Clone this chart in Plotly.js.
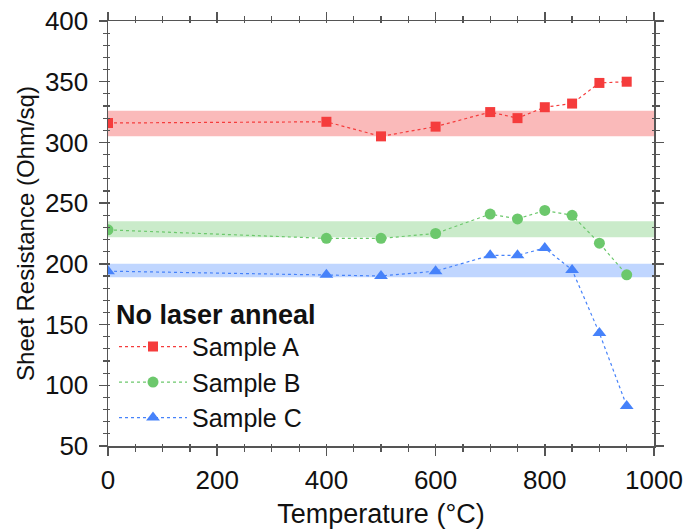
<!DOCTYPE html>
<html>
<head>
<meta charset="utf-8">
<script src="https://cdn.plot.ly/plotly-3.0.1.min.js"></script>
<style>html,body{margin:0;padding:0;background:#fff;}#chart{width:686px;height:530px;}</style>
</head>
<body>
<div id="chart"></div>
<script>
const temperature = [0, 400, 500, 600, 700, 750, 800, 850, 900, 950];
const sampleA = [316, 317, 305, 313, 325, 320, 329, 332, 349, 350];
const sampleB = [228, 221, 221, 225, 241, 237, 244, 240, 217, 191];
const sampleC = [194, 191, 190, 194, 207, 207, 213, 195, 143, 83];
const bandA = [305, 326];
const bandB = [222, 235];
const bandC = [189, 200];
const bandX = [0, 1000];
const seriesNames = ['Sample A', 'Sample B', 'Sample C'];
const legendTitle = 'No laser anneal';

const lineColors = ['rgb(245,60,60)', 'rgb(108,200,108)', 'rgb(70,130,250)'];
const bandColors = ['rgba(246,140,140,0.6)', 'rgba(150,215,150,0.5)', 'rgba(140,180,255,0.55)'];
const symbols = ['square', 'circle', 'triangle-up'];
const sizes = [10, 11, 12];

const traces = [];
[bandA, bandB, bandC].forEach((b, i) => {
  traces.push({x: bandX, y: [b[0], b[0]], mode: 'lines', line: {width: 0, color: bandColors[i]}, showlegend: false, hoverinfo: 'skip'});
  traces.push({x: bandX, y: [b[1], b[1]], mode: 'lines', line: {width: 0, color: bandColors[i]}, fill: 'tonexty', fillcolor: bandColors[i], showlegend: false, hoverinfo: 'skip'});
});
[sampleA, sampleB, sampleC].forEach((s, i) => {
  traces.push({
    x: temperature, y: s, name: seriesNames[i], mode: 'lines+markers',
    line: {color: lineColors[i], width: 1.2, dash: 'dot'},
    marker: {symbol: symbols[i], size: sizes[i], color: lineColors[i]}
  });
});
traces.push({x: [], y: [], xaxis: 'x2', yaxis: 'y2', showlegend: false, hoverinfo: 'skip'});

const axCol = '#555';
const font = {family: 'Liberation Sans, Arial, sans-serif', size: 26, color: '#111'};
const layout = {
  width: 686, height: 530,
  margin: {l: 108, r: 32, t: 21, b: 84},
  paper_bgcolor: '#fff', plot_bgcolor: '#fff',
  font: font,
  showlegend: true,
  legend: {
    x: 0.011, y: 0.37, xanchor: 'left', yanchor: 'top',
    bgcolor: 'rgba(0,0,0,0)', traceorder: 'normal',
    title: {text: '<b>' + legendTitle + '</b>', font: {size: 27}},
    font: {size: 25}, itemwidth: 68, tracegroupgap: 0
  },
  xaxis: {
    range: [0, 1000], dtick: 200, tick0: 0, showgrid: false, zeroline: false,
    showline: true, linecolor: axCol, linewidth: 1.5, mirror: 'allticks',
    ticks: 'outside', ticklen: 8, tickwidth: 1.5, tickcolor: axCol, ticklabelstandoff: 2,
    tickfont: {size: 26},
    minor: {dtick: 50, ticks: 'outside', ticklen: 4, tickwidth: 1.2, tickcolor: axCol},
    title: {text: 'Temperature (°C)', font: {size: 27}, standoff: 10}
  },
  yaxis: {
    range: [50, 400], dtick: 50, tick0: 0, showgrid: false, zeroline: false,
    showline: true, linecolor: axCol, linewidth: 1.5, mirror: 'allticks',
    ticks: 'outside', ticklen: 8, tickwidth: 1.5, tickcolor: axCol, ticklabelstandoff: 5,
    tickfont: {size: 26},
    minor: {dtick: 10, ticks: 'outside', ticklen: 4, tickwidth: 1.2, tickcolor: axCol},
    title: {text: 'Sheet Resistance (Ohm/sq)', font: {size: 24}, standoff: 3}
  },
  xaxis2: {
    overlaying: 'x', anchor: 'y2', range: [0, 1000], dtick: 200, tick0: 0,
    showgrid: false, zeroline: false, showline: false, showticklabels: false, mirror: 'allticks',
    ticks: 'inside', ticklen: 2, tickwidth: 1.5, tickcolor: axCol,
    minor: {dtick: 50, ticks: 'inside', ticklen: 2, tickwidth: 1.2, tickcolor: axCol}
  },
  yaxis2: {
    overlaying: 'y', anchor: 'x2', range: [50, 400], dtick: 50, tick0: 0,
    showgrid: false, zeroline: false, showline: false, showticklabels: false, mirror: 'allticks',
    ticks: 'inside', ticklen: 2, tickwidth: 1.5, tickcolor: axCol,
    minor: {dtick: 10, ticks: 'inside', ticklen: 2, tickwidth: 1.2, tickcolor: axCol}
  }
};
Plotly.newPlot('chart', traces, layout, {displayModeBar: false, staticPlot: true});
</script>
</body>
</html>
